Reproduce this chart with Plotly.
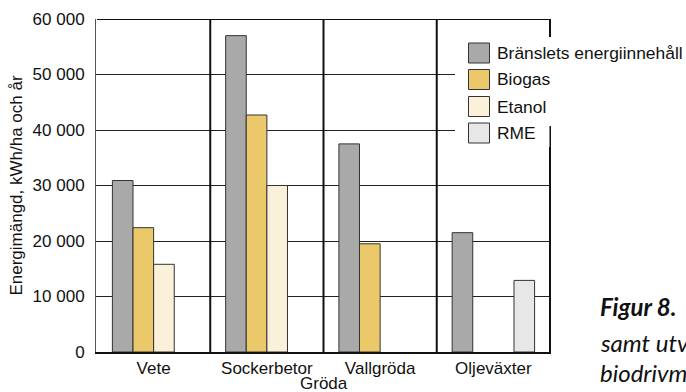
import plotly.graph_objects as go

# ---------------- data ----------------
categories = ["Vete", "Sockerbetor", "Vallgröda", "Oljeväxter"]
series_names = ["Bränslets energiinnehåll", "Biogas", "Etanol", "RME"]
bransle = [30900, 57000, 37500, 21500]
biogas = [22400, 42700, 19500, None]
etanol = [15800, 30000, None, None]
rme = [None, None, None, 12900]
series_values = [bransle, biogas, etanol, rme]
series_colors = ["#a9a9a9", "#ebc96b", "#fbf1da", "#e7e7e7"]

y_tick_values = [0, 10000, 20000, 30000, 40000, 50000, 60000]
y_tick_labels = ["0", "10 000", "20 000", "30 000", "40 000", "50 000", "60 000"]
y_title = "Energimängd, kWh/ha och år"
x_title = "Gröda"
caption_lines = ["<b>Figur 8.</b>", "samt utv", "biodrivm"]

# ---------------- layout constants ----------------
W, H = 686, 392
ML, MR, MT, MB = 96, 135, 19, 40
PW, PH = W - ML - MR, H - MT - MB
FONT = "Liberation Sans, Arial, Helvetica, sans-serif"


def px_x(p):
    return (p - ML) / PW


def px_y(p):
    return (H - MB - p) / PH


fig = go.Figure()
for name, vals, col in zip(series_names, series_values, series_colors):
    fig.add_trace(go.Bar(
        x=categories, y=vals, name=name,
        marker=dict(color=col, line=dict(color="#333333", width=1)),
        showlegend=False,
    ))

shapes = []
# category dividers
for i in range(len(categories) - 1):
    shapes.append(dict(type="line", xref="x", yref="y", x0=i + 0.5, x1=i + 0.5,
                       y0=0, y1=60000, line=dict(color="#111", width=2), layer="above"))
# right border and top border
shapes.append(dict(type="line", xref="x", yref="y", x0=len(categories) - 0.5,
                   x1=len(categories) - 0.5, y0=0, y1=60000,
                   line=dict(color="#111", width=2), layer="above"))
shapes.append(dict(type="line", xref="x", yref="y", x0=-0.5, x1=len(categories) - 0.5,
                   y0=60000, y1=60000, line=dict(color="#111", width=2), layer="above"))
# white legend box
shapes.append(dict(type="rect", xref="paper", yref="paper", x0=px_x(455), x1=px_x(700),
                   y0=px_y(126), y1=px_y(37), fillcolor="white", line=dict(width=0), layer="above"))
shapes.append(dict(type="rect", xref="paper", yref="paper", x0=px_x(455), x1=px_x(549.5),
                   y0=px_y(147), y1=px_y(120), fillcolor="white", line=dict(width=0), layer="above"))

annotations = []
row_centers = [53, 79.5, 106.5, 133]
for name, col, cy in zip(series_names, series_colors, row_centers):
    shapes.append(dict(type="rect", xref="paper", yref="paper", x0=px_x(468.5), x1=px_x(489.5),
                       y0=px_y(cy + 10), y1=px_y(cy - 10), fillcolor=col,
                       line=dict(color="#333333", width=1), layer="above"))
    annotations.append(dict(xref="paper", yref="paper", x=px_x(495), y=px_y(cy),
                            xanchor="left", yanchor="middle", text=name, showarrow=False,
                            font=dict(family=FONT, size=17.4, color="#111")))

# x-axis title
annotations.append(dict(xref="paper", yref="paper", x=0.5, y=px_y(383.5),
                        xanchor="center", yanchor="middle", text=x_title, showarrow=False,
                        font=dict(family=FONT, size=17, color="#111")))

cap_centers = [306, 342, 372]
for t, cy in zip(caption_lines, cap_centers):
    annotations.append(dict(xref="paper", yref="paper", x=px_x(598), y=px_y(cy),
                            xanchor="left", yanchor="middle", text="<i>" + t + "</i>",
                            showarrow=False,
                            font=dict(family="Lato, Open Sans, sans-serif", size=24, color="#111")))

fig.update_layout(
    width=W, height=H,
    margin=dict(l=ML, r=MR, t=MT, b=MB),
    paper_bgcolor="white", plot_bgcolor="white",
    barmode="group", bargap=0.272, bargroupgap=0,
    font=dict(family=FONT, size=17, color="#111"),
    shapes=shapes, annotations=annotations,
    showlegend=False,
)
fig.update_xaxes(
    automargin=False,
    showline=True, linecolor="#111", linewidth=2, ticks="",
    tickfont=dict(size=17), showgrid=False,
)
fig.update_yaxes(
    automargin=False,
    range=[0, 60000], tickvals=y_tick_values, ticktext=y_tick_labels,
    showgrid=True, gridcolor="#222", gridwidth=1,
    showline=True, linecolor="#555", linewidth=1, ticks="",
    zeroline=False, ticklabelstandoff=7,
    tickfont=dict(size=17),
    title=dict(text=y_title, font=dict(size=17), standoff=5),
)

fig.write_html(
    "out.html",
    config={"displayModeBar": False},
    post_script="document.body.style.margin='0';document.body.style.overflow='hidden';",
)
